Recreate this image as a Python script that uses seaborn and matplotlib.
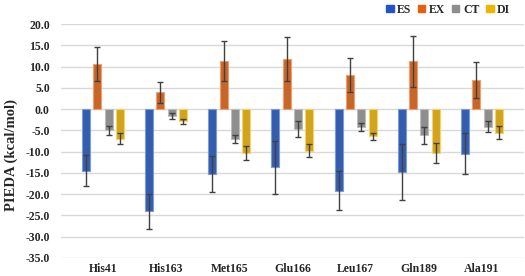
import pandas as pd
import seaborn as sns
import matplotlib.pyplot as plt
from matplotlib.patches import Patch

residues = ["His41", "His163", "Met165", "Glu166", "Leu167", "Gln189", "Ala191"]
terms = ["ES", "EX", "CT", "DI"]

es = [-14.5, -24.1, -15.3, -13.7, -19.2, -14.8, -10.5]
ex = [10.5, 3.9, 11.4, 11.8, 8.1, 11.2, 6.9]
ct = [-5.0, -1.7, -7.0, -4.7, -4.3, -6.2, -4.2]
di = [-7.0, -2.9, -10.3, -9.8, -6.4, -10.3, -5.6]

es_err = [3.7, 4.1, 4.3, 6.2, 4.6, 6.5, 4.9]
ex_err = [4.0, 2.5, 4.7, 5.2, 4.0, 6.0, 4.2]
ct_err = [1.1, 0.7, 1.0, 1.8, 0.9, 2.0, 1.3]
di_err = [1.3, 0.6, 1.7, 1.6, 0.8, 2.4, 1.5]

colors = ["#2156C2", "#E2600F", "#8E8E8E", "#F0B300"]
edges = ["#7C9BDB", "#F0A070", "#BDBDBD", "#F6D36A"]

rows = []
for vals, errs, t in [(es, es_err, "ES"), (ex, ex_err, "EX"), (ct, ct_err, "CT"), (di, di_err, "DI")]:
    for r, v, e in zip(residues, vals, errs):
        rows.append({"residue": r, "term": t, "value": v, "err": e})
df = pd.DataFrame(rows)

sns.set_style("white")
plt.rcParams["font.family"] = ["Liberation Serif", "DejaVu Serif"]

fig = plt.figure(figsize=(5.25, 2.76), dpi=100)
ax = fig.add_axes([0.116, 0.066, 0.882, 0.847])

sns.barplot(data=df, x="residue", y="value", hue="term", hue_order=terms,
            order=residues, palette=colors, width=0.72, gap=0.3,
            errorbar=None, legend=False, ax=ax, zorder=3)

# color the borders and add the error bars at each bar
for i, t in enumerate(terms):
    cont = ax.containers[i]
    sub = df[df["term"] == t].set_index("residue").loc[residues]
    xs = []
    for p in cont.patches:
        p.set_edgecolor(edges[i])
        p.set_linewidth(0.8)
        xs.append(p.get_x() + p.get_width() / 2)
    ax.errorbar(xs, sub["value"], yerr=sub["err"], fmt="none", ecolor="#404040",
                elinewidth=1.0, capsize=2, capthick=1.0, zorder=4)

ax.set_ylim(-35, 20)
ax.set_yticks(range(-35, 21, 5))
ax.set_yticklabels([f"{v:.1f}" for v in range(-35, 21, 5)])
ax.yaxis.grid(True, color="#D9D9D9", linewidth=1.0, zorder=0)
ax.set_axisbelow(True)
for s in ax.spines.values():
    s.set_visible(False)
ax.tick_params(axis="y", length=0, labelsize=8.5, pad=8)
ax.tick_params(axis="x", length=0, labelsize=8.5, pad=4)
for lab in ax.get_xticklabels() + ax.get_yticklabels():
    lab.set_fontweight("bold")
ax.set_xlabel("")
ax.set_ylabel("PIEDA (kcal/mol)", fontsize=10.5, fontweight="bold")
ax.yaxis.set_label_coords(-0.092, 0.44)

handles = [Patch(facecolor=c, edgecolor=c) for c in colors]
fig.legend(handles, terms, loc="upper right", bbox_to_anchor=(0.992, 1.025), ncol=4,
           frameon=False, handlelength=0.6, handleheight=0.6, handletextpad=0.3,
           columnspacing=0.6, prop={"weight": "bold", "size": 8.5})

fig.savefig("out.png", dpi=100)
